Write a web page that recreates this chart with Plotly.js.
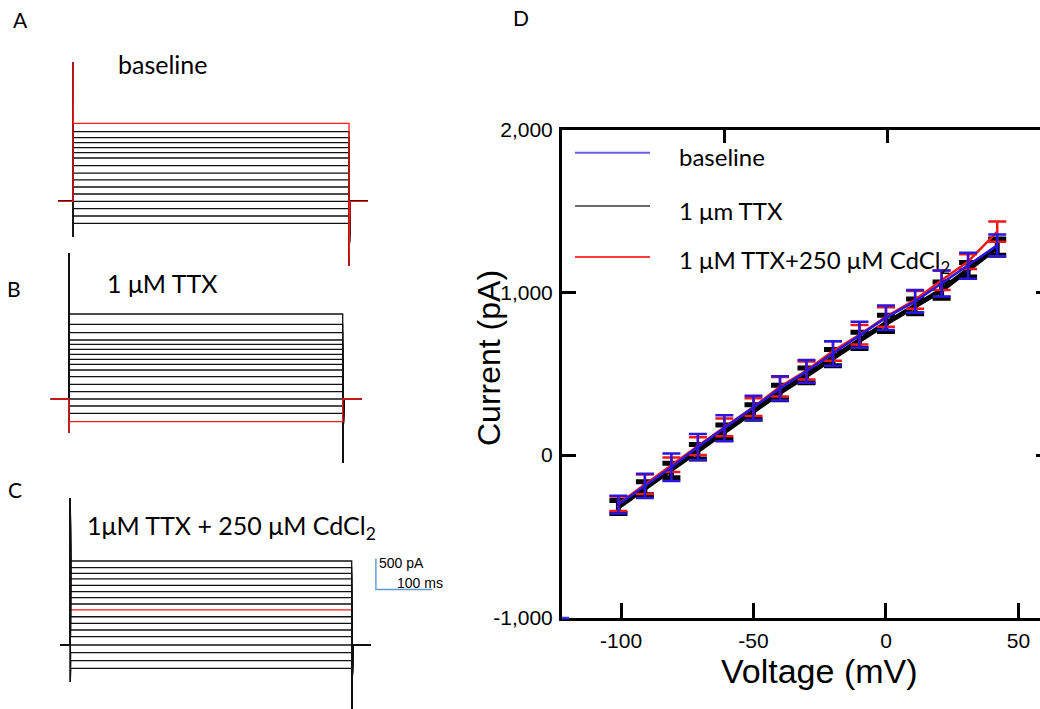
<!DOCTYPE html>
<html><head><meta charset="utf-8">
<script src="https://cdn.plot.ly/plotly-3.0.1.min.js"></script>
<style>html,body{margin:0;padding:0;overflow:hidden;background:#fff}#chart{width:1048px;height:709px}</style>
</head><body><div id="chart"></div>
<script>
// ---------- Panel D: I-V relationship ----------
const voltage    = [-101, -91, -81, -71, -61, -50, -40, -30, -20, -10, 0, 11, 21, 31, 42];
const baselineI  = [-305, -190, -75, 50, 165, 290, 410, 515, 625, 740, 845, 945, 1055, 1165, 1290];
const baselineSE = [55, 75, 85, 80, 80, 75, 75, 70, 75, 80, 75, 70, 80, 80, 67];
const ttxI       = [-320, -205, -95, 20, 140, 265, 385, 490, 600, 705, 810, 915, 1015, 1140, 1280];
const ttxSE      = [40, 40, 45, 45, 45, 45, 45, 45, 50, 50, 50, 45, 50, 45, 50];
const cdI        = [-300, -180, -60, 55, 170, 295, 420, 520, 640, 740, 850, 955, 1075, 1190, 1375];
const cdSE       = [45, 60, 45, 55, 55, 55, 60, 55, 60, 60, 60, 55, 60, 45, 62];
const seriesNames = ['baseline', '1 μm TTX', '1 μM TTX+250 μM CdCl<sub>2</sub>'];
const xTicks = [-100, -50, 0, 50];
const xTickText = ['-100', '-50', '0', '50'];
const yTicks = [-1000, 0, 1000, 2000];
const yTickText = ['-1,000', '0', '1,000', '2,000'];

// ---------- Panels A-C: steady-state current of each sweep (pA) ----------
const sweepsA = [1258, 1123, 1026, 945, 865, 784, 698, 574, 456, 344, 231, 118, 0, -119, -237, -355];
const sweepsB = [1371, 1205, 1069, 952, 882, 802, 721, 640, 560, 468, 360, 237, 118, 0, -113, -231, -366];
const sweepsC = [1355, 1247, 1156, 1065, 963, 860, 763, 661, 565, 456, 350, 242, 134, 0, -124, -253, -376];
// capacitive transients (pA): [onset peak, onset trough, offset trough]
const transA = [2247, -576, -1044];
const transB = [2355, -548, -1032];
const transC = [2371, -597, -1210];
const panelTitles = ['baseline', '1 μM TTX', '1μM TTX + 250 μM CdCl<sub>2</sub>'];
const stepMs = 500;
const scaleBar = {ms: 100, pA: 500, t0: 543, i0: 895};

// ---------- geometry helpers ----------
const W = 1048, H = 709;
const X = px => px / W;
const Y = py => 1 - py / H;
const pxPerPA = 0.062;

const panels = [
  {s:'',  levels:sweepsA, red:0,  onset:73,   end:349,   hold:201.3, box:[40,470,30,290],  trans:transA, pre:27, post:34, redTop:true},
  {s:'2', levels:sweepsB, red:16, onset:69,   end:342.7, hold:399,   box:[40,470,240,475], trans:transB, pre:33, post:35, redTop:true},
  {s:'3', levels:sweepsC, red:8,  onset:70.3, end:351.7, hold:645,   box:[40,470,480,709], trans:transC, pre:18, post:34, redTop:false}
];

const data = [];
const layout = {
  width: W, height: H, margin: {l:0, r:0, t:0, b:0},
  paper_bgcolor: '#fff', plot_bgcolor: 'rgba(0,0,0,0)',
  showlegend: false, shapes: [], annotations: []
};

panels.forEach(p => {
  const pxPerMs = (p.end - p.onset) / stepMs;
  layout['xaxis' + p.s] = {domain:[X(p.box[0]), X(p.box[1])],
    range:[(p.box[0]-p.onset)/pxPerMs, (p.box[1]-p.onset)/pxPerMs],
    visible:false, anchor:'y'+p.s, fixedrange:true};
  layout['yaxis' + p.s] = {domain:[Y(p.box[3]), Y(p.box[2])],
    range:[(p.hold-p.box[3])/pxPerPA, (p.hold-p.box[2])/pxPerPA],
    visible:false, anchor:'x'+p.s, fixedrange:true};
  const mk = (L, color) => {
    const P = L > 0 ? p.trans[0] : (L < 0 ? p.trans[1] : 0);
    const T = L > 0 ? p.trans[2] : 0;
    return {type:'scatter', mode:'lines', xaxis:'x'+p.s, yaxis:'y'+p.s, hoverinfo:'skip',
      x:[-p.pre, 0, 0, 0.6, stepMs, stepMs, stepMs+2, stepMs+p.post],
      y:[0, 0, P, L, L, T, 0, 0],
      line:{color:color, width:1.3}};
  };
  const redTrace = mk(p.levels[p.red], '#ff1a1a');
  if (!p.redTop) data.push(redTrace);
  p.levels.forEach((L, i) => { if (i !== p.red) data.push(mk(L, '#111')); });
  if (p.redTop) data.push(redTrace);
});

// scale bar in panel C coordinates
data.push({type:'scatter', mode:'lines', xaxis:'x3', yaxis:'y3', hoverinfo:'skip',
  x:[scaleBar.t0, scaleBar.t0, scaleBar.t0 + scaleBar.ms],
  y:[scaleBar.i0 + scaleBar.pA, scaleBar.i0, scaleBar.i0],
  line:{color:'#5b9bd5', width:1.4}});

// ---------- Panel D ----------
const dx0 = 562, dx1 = 1042, dy0 = 130, dy1 = 617.5;
const xr = [-122.3, 58.9], yr = [-1000, 2000];
layout.xaxis4 = {domain:[X(dx0), X(dx1)], anchor:'y4', range:xr, tickvals:xTicks, ticktext:xTickText,
  ticks:'inside', ticklen:15, tickwidth:3, tickcolor:'#000', showline:true, linewidth:3, linecolor:'#000',
  showgrid:false, zeroline:false, ticklabelstandoff:2,
  tickfont:{family:'Liberation Sans, Arial', size:21, color:'#000'}, fixedrange:true};
layout.yaxis4 = {domain:[Y(dy1), Y(dy0)], anchor:'x4', range:yr, tickvals:yTicks, ticktext:yTickText,
  ticks:'inside', ticklen:14, tickwidth:3, tickcolor:'#000', showline:true, linewidth:3, linecolor:'#000',
  showgrid:false, zeroline:false, ticklabelstandoff:2,
  tickfont:{family:'Liberation Sans, Arial', size:21, color:'#000'}, fixedrange:true};
layout.xaxis5 = {overlaying:'x4', anchor:'y4', side:'top', range:xr, tickvals:[-61, 0.5], showticklabels:false,
  ticks:'inside', ticklen:13, tickwidth:3, tickcolor:'#000', showline:true, linewidth:3, linecolor:'#000',
  showgrid:false, zeroline:false, fixedrange:true};
layout.yaxis5 = {overlaying:'y4', anchor:'x4', side:'right', range:yr, tickvals:yTicks, showticklabels:false,
  ticks:'inside', ticklen:6, tickwidth:3, tickcolor:'#000', showline:true, linewidth:3, linecolor:'#000',
  showgrid:false, zeroline:false, fixedrange:true};
data.push({type:'scatter', mode:'lines', xaxis:'x5', yaxis:'y5', x:[null], y:[null], hoverinfo:'skip'});

const ivSeries = [
  {y:ttxI, e:ttxSE, color:'#000', lw:5, et:5, ew:9},
  {y:cdI, e:cdSE, color:'#f01818', lw:2.5, et:2.5, ew:9},
  {y:baselineI, e:baselineSE, color:'#2a16e0', lw:2.5, et:2.5, ew:9}
];
ivSeries.forEach(s => data.push({type:'scatter', mode:'lines', xaxis:'x4', yaxis:'y4', hoverinfo:'skip',
  x:voltage, y:s.y, line:{color:s.color, width:s.lw},
  error_y:{type:'data', array:s.e, visible:true, color:s.color, thickness:s.et, width:s.ew}}));

// legend (drawn as shapes + text)
const legColors = ['#6a5cf2', '#3a3a3a', '#ff3838'];
const legY = [152.7, 206, 257];
const legW = [2, 1.5, 2];
seriesNames.forEach((n, i) => {
  layout.shapes.push({type:'line', xref:'paper', yref:'paper', x0:X(575), x1:X(650), y0:Y(legY[i]), y1:Y(legY[i]),
    line:{color:legColors[i], width:legW[i]}});
  layout.annotations.push({text:n, xref:'paper', yref:'paper', x:X(677), y:Y(legY[i] + 4), xanchor:'left', yanchor:'middle',
    showarrow:false, font:{family:'Lato', size:24, color:'#000'}});
});
// small blue mark at corner
layout.shapes.push({type:'line', xref:'paper', yref:'paper', x0:X(562), x1:X(569), y0:Y(618), y1:Y(618), line:{color:'#3030ff', width:2.5}});

// axis titles for D
layout.annotations.push({text:'Voltage (mV)', xref:'paper', yref:'paper', x:X(819), y:Y(671), xanchor:'center', yanchor:'middle',
  showarrow:false, font:{family:'Liberation Sans, Arial', size:34, color:'#000'}});
layout.annotations.push({text:'Current (pA)', xref:'paper', yref:'paper', x:X(489), y:Y(358), xanchor:'center', yanchor:'middle',
  textangle:-90, showarrow:false, font:{family:'Liberation Sans, Arial', size:32, color:'#000'}});

// panel titles & letters
const titlePos = [[163, 64], [161.5, 283], [231.5, 527]];
panelTitles.forEach((t, i) => layout.annotations.push({text:t, xref:'paper', yref:'paper', x:X(titlePos[i][0]), y:Y(titlePos[i][1]),
  xanchor:'center', yanchor:'middle', showarrow:false, font:{family:'Lato', size:25, color:'#000'}}));
const letters = [['A', 20, 20], ['B', 14, 288], ['C', 15, 489], ['D', 521, 18]];
letters.forEach(l => layout.annotations.push({text:l[0], xref:'paper', yref:'paper', x:X(l[1]), y:Y(l[2]),
  xanchor:'center', yanchor:'middle', showarrow:false, font:{family:'Lato', size:21, color:'#000'}}));
// scale bar labels
layout.annotations.push({text:'500 pA', xref:'paper', yref:'paper', x:X(377), y:Y(563), xanchor:'left', yanchor:'middle',
  showarrow:false, font:{family:'Liberation Sans, Arial', size:14, color:'#000'}});
layout.annotations.push({text:'100 ms', xref:'paper', yref:'paper', x:X(395), y:Y(583), xanchor:'left', yanchor:'middle',
  showarrow:false, font:{family:'Liberation Sans, Arial', size:14, color:'#000'}});

Plotly.newPlot('chart', data, layout, {displayModeBar:false, staticPlot:true});
</script></body></html>
